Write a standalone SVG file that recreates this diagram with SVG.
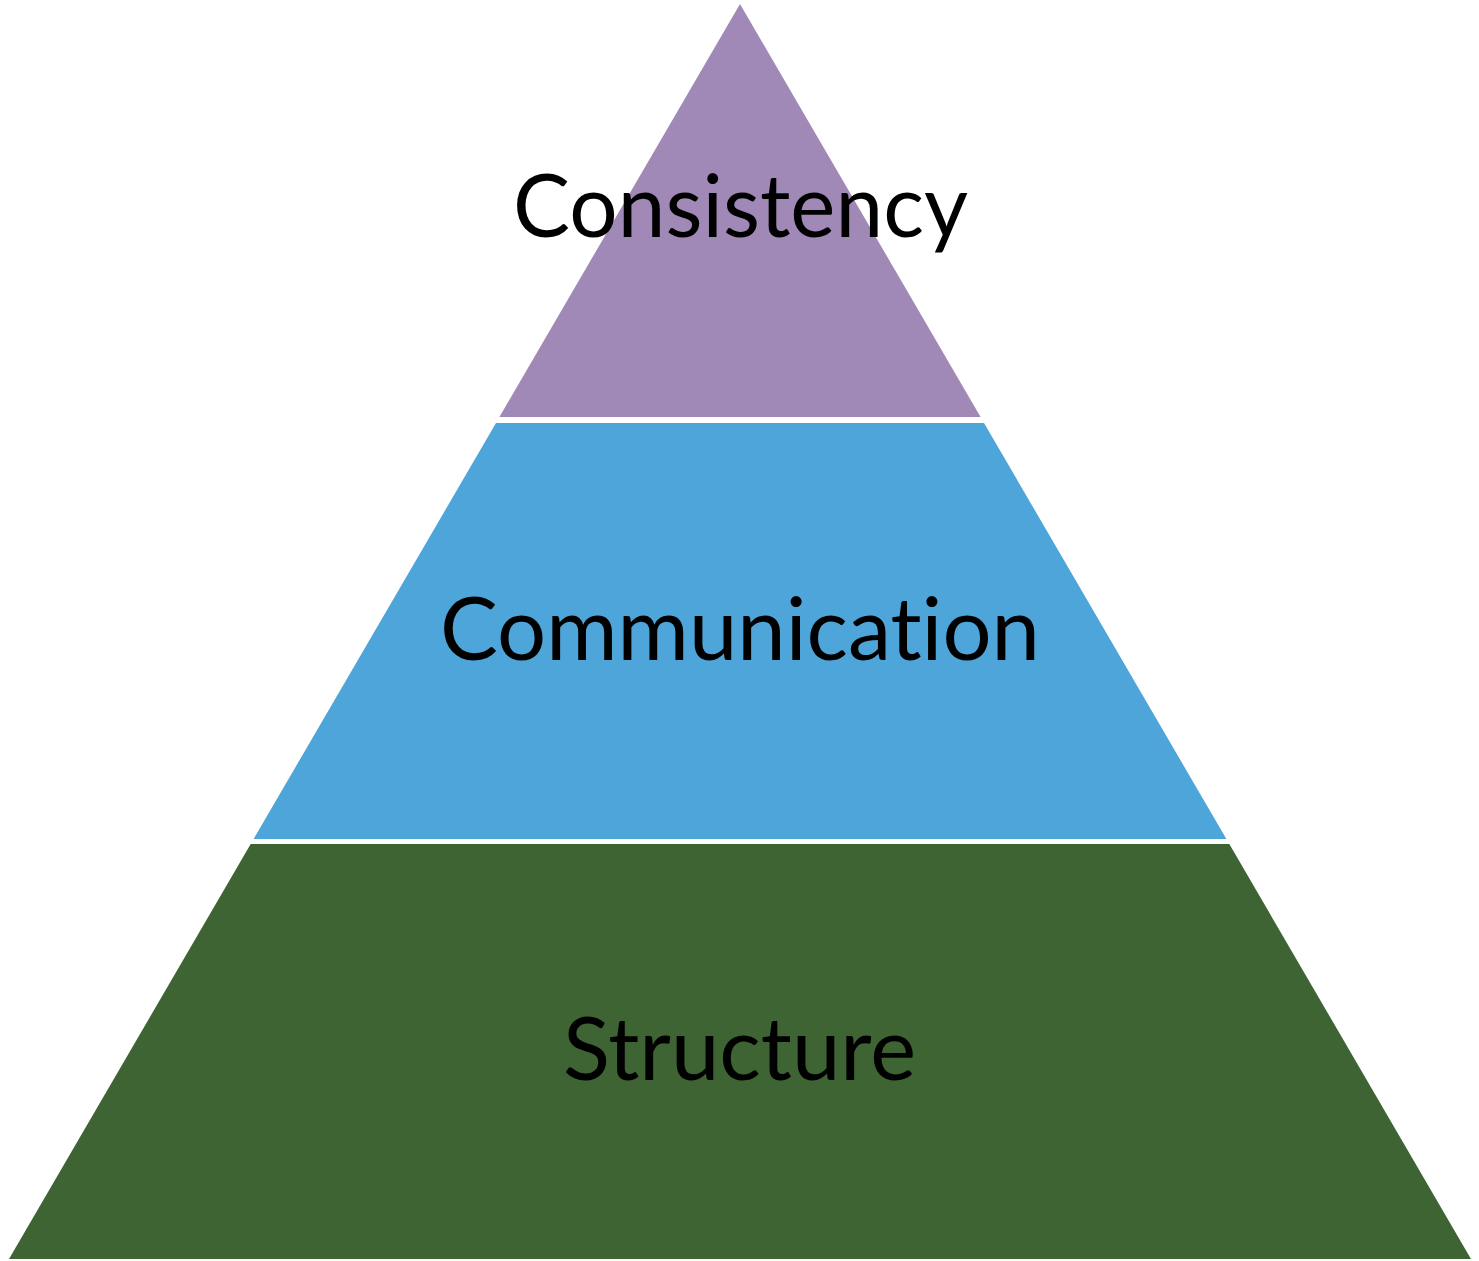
<svg xmlns="http://www.w3.org/2000/svg" width="1479" height="1261" viewBox="0 0 1479 1261">
  <style>
    .label { font-family: "Lato", "Open Sans", "Liberation Sans", sans-serif; font-size: 88px; fill: #000000; text-anchor: middle; font-variant-ligatures: none; font-feature-settings: "liga" 0, "clig" 0; }
  </style>
  <rect width="1479" height="1261" fill="#ffffff"/>
  <g id="tier-consistency">
    <polygon points="740,4 980.6,417 499.4,417" fill="#A189B7"/>
    <text class="label" x="740.5" y="237" textLength="455" lengthAdjust="spacingAndGlyphs">Consistency</text>
  </g>
  <g id="tier-communication">
    <polygon points="496,423 984,423 1226.4,839 253.6,839" fill="#4EA5D9"/>
    <text class="label" x="740" y="660" textLength="600" lengthAdjust="spacingAndGlyphs">Communication</text>
  </g>
  <g id="tier-structure">
    <polygon points="250.7,844 1229.3,844 1471,1259 9,1259" fill="#3D6432"/>
    <text class="label" x="739.5" y="1080" textLength="353" lengthAdjust="spacingAndGlyphs">Structure</text>
  </g>
  <g id="connectors"/>
</svg>
